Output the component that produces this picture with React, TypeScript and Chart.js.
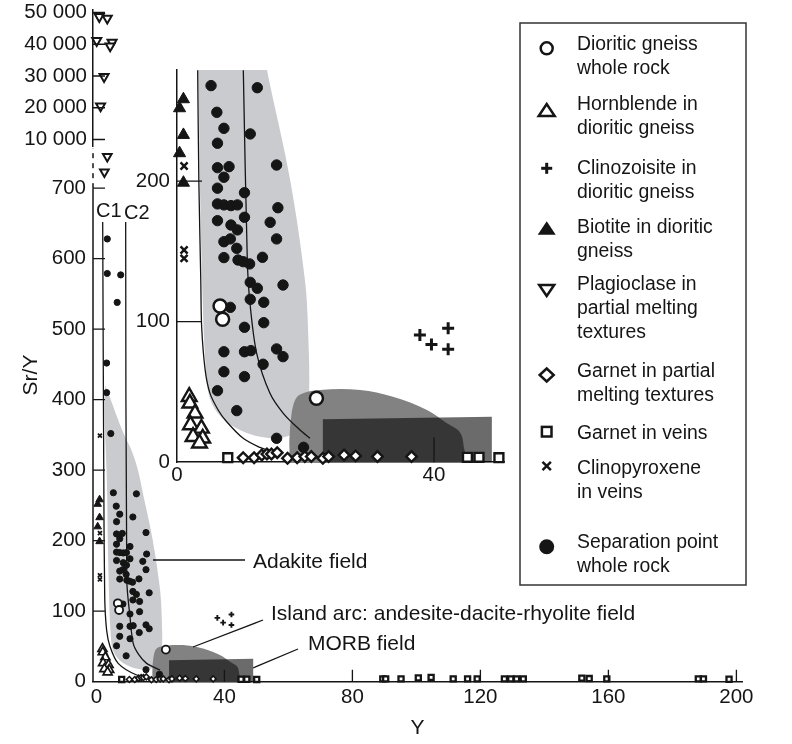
import React, { useEffect, useRef } from "react";
import { Chart, registerables } from "chart.js";

Chart.register(...registerables);

const FONT = "'Liberation Sans', Arial, Helvetica, sans-serif";
const INK = "#151515";
const W = 792;
const H = 744;

// ---------------- data (Y, Sr/Y) ----------------
const separationPoint: number[][] = [
  [5.3, 268], [12.5, 266.5], [6.2, 249], [7.3, 237.6], [11.4, 233.6], [6.3, 227],
  [6.3, 209.6], [8.1, 210.3], [15.5, 211.5], [7.3, 202.8], [6.3, 195], [10.5, 191.8],
  [6.3, 183.8], [7.3, 183.1], [8.4, 182.6], [9.4, 183.1], [15.7, 181.1], [6.3, 171.9],
  [10.5, 174.3], [14.5, 170.7], [8.4, 168.8], [9.4, 165.3], [15.5, 158.9], [7.3, 156.9],
  [8.3, 158.9], [9.3, 152.2], [7.3, 145.6], [9.5, 143.9], [10.3, 142.7], [11.3, 141.1],
  [13.3, 145.8], [11.4, 128], [12.5, 123.8], [16.5, 126.1], [11.4, 115.9], [8.3, 110.2],
  [13.5, 113.8], [13.5, 99.3], [10.5, 96], [7.3, 78.6], [10.5, 78.6], [11.5, 79.4],
  [15.5, 80.6], [16.5, 75.1], [13.4, 69.7], [7.3, 64.4], [10.5, 60.9], [6.3, 50.9],
  [9.3, 36.7], [15.5, 17], [19.7, 10.6],
  [3.4, 628], [3.4, 579], [7.6, 577], [6.5, 538], [3.2, 452], [3.2, 410], [4.5, 352],
];
const dioriticGneiss: number[][] = [[6.7, 111.2], [7.1, 101.7], [21.7, 45.5]];
const hornblende: number[][] = [
  [1.9, 46.6], [2.0, 41.9], [2.8, 34.8], [2.1, 26.5], [3.8, 24.1], [2.5, 18.1], [4.0, 17], [3.5, 13.5],
];
const clinozoisite: number[][] = [[37.8, 90.5], [39.6, 83.8], [42.2, 95.3], [42.2, 80.4]];
const biotite: number[][] = [[1.0, 258.3], [0.4, 251.9], [1.0, 232.9], [0.4, 219.9], [1.0, 198.9]];
const clinopyroxene: number[][] = [[1.1, 349], [1.1, 210.8], [1.1, 151], [1.1, 145.1]];
const plagioclaseHigh: number[][] = [
  [0.9, 48680], [3.4, 48170], [0.1, 41120], [4.9, 40610], [4.3, 39450], [2.4, 29780], [1.3, 20550],
];
const plagioclaseBreak: number[][] = [[3.4, 745], [2.5, 723]];
const garnetPartial: number[][] = [
  [10.3, 3.2], [12.0, 3.2], [13.2, 5.1], [14.0, 5.8], [14.7, 5.8], [15.6, 6.8], [17.2, 2.8], [18.7, 3.2],
  [19.9, 4.0], [20.9, 4.0], [22.7, 2.8], [23.6, 4.0], [26.0, 5.1], [27.8, 4.5], [31.2, 4.0], [36.5, 4.0],
];
const garnetVeins: number[][] = [
  [7.9, 3.2], [45.2, 3.5], [47.0, 3.5], [50.1, 3.2], [89.5, 4], [90.4, 4], [95.2, 4], [100.6, 5.5],
  [104.6, 6], [111.5, 4], [116, 4], [119, 4], [127.5, 4], [129.5, 4], [131.3, 4], [133.4, 4],
  [151.7, 5], [154, 4.5], [159.5, 4], [188.1, 4], [189.7, 4], [197.7, 3.5],
];

// fields
const adakiteField: number[][] = [
  [2.8, 420], [4.5, 400], [6.5, 375], [8.5, 352], [11.0, 328], [13.0, 300], [14.5, 268],
  [17.6, 201], [19.9, 130], [20.4, 94], [20.5, 44], [19.6, 26.5], [16.8, 17.9], [13.2, 17.9],
  [9.8, 22.9], [7.0, 31.5], [5.1, 45.7], [4.4, 72.7], [4.0, 115], [3.6, 190], [3.3, 280],
  [2.5, 390], [2.8, 420],
];
const islandArcField: number[][] = [
  [17.6, 25.3], [18.1, 40.7], [19.1, 48], [22.3, 51.4], [28.5, 51.4], [33.6, 46.6], [38.9, 37.2],
  [42.0, 27.7], [44.0, 21.5], [44.6, 12], [44.6, -2], [18.0, -2], [17.5, 10.1], [17.6, 25.3],
];
const morbField: number[][] = [[22.7, -2], [22.7, 30.5], [49.0, 32.4], [49.0, -2], [22.7, -2]];

// model curves (main panel / inset panel)
const c1Main: number[][] = [[1.97, 652], [2.3, 300], [2.6, 120], [3.2, 73], [4.25, 50], [6.8, 26], [12.6, 9.5], [18.8, 3.5]];
const c2Main: number[][] = [[9.15, 652], [9.5, 144], [10.5, 92], [11.5, 54.5], [13.3, 38], [15.7, 26], [19.9, 16.6]];
const c1Inset: number[][] = [[3.22, 279], [3.4, 200], [3.7, 130], [3.84, 96], [4.4, 65], [5.14, 49], [6.43, 37], [7.7, 29], [10.3, 17], [12.9, 10.5], [14.5, 8]];
const c2Inset: number[][] = [[10.32, 279], [10.94, 144], [11.36, 113], [12.4, 77.5], [14.47, 49], [16.54, 34.8], [19.14, 22.9], [20.7, 17]];

// ticks
const mainXTicks = [0, 40, 80, 120, 160, 200];
const mainYTicks = [0, 100, 200, 300, 400, 500, 600, 700];
const topYTicks = [10000, 20000, 30000, 40000, 50000];
const insetXTicks = [0, 40];
const insetYTicks = [0, 100, 200];

const legendItems: { lines: string[]; marker: string }[] = [
  { lines: ["Dioritic gneiss", "whole rock"], marker: "openCircle" },
  { lines: ["Hornblende in", "dioritic gneiss"], marker: "openTriangle" },
  { lines: ["Clinozoisite in", "dioritic gneiss"], marker: "plus" },
  { lines: ["Biotite in dioritic", "gneiss"], marker: "filledTriangle" },
  { lines: ["Plagioclase in", "partial melting", "textures"], marker: "downTriangle" },
  { lines: ["Garnet in partial", "melting textures"], marker: "diamond" },
  { lines: ["Garnet in veins"], marker: "square" },
  { lines: ["Clinopyroxene", "in veins"], marker: "cross" },
  { lines: ["Separation point", "whole rock"], marker: "filledCircle" },
];

const ADAKITE_FILL = "rgb(201,203,207)";
const ISLAND_FILL = "rgb(130,130,130)";
const MORB_FILL = "rgba(0,0,0,0.58)";

// ---------------- helpers ----------------
const toXY = (a: number[][]) => a.map(([x, y]) => ({ x, y }));

function pointSet(label: string, data: number[][], style: string, r: number, bw: number, fill: string, extra: any = {}) {
  return {
    type: "scatter",
    label,
    data: toXY(data),
    pointStyle: style,
    pointRadius: r,
    pointBorderWidth: bw,
    pointBackgroundColor: fill,
    pointBorderColor: INK,
    borderColor: INK,
    backgroundColor: fill,
    showLine: false,
    clip: 14,
    order: 1,
    ...extra,
  };
}
function fieldSet(label: string, data: number[][], color: string, tension: number, order: number) {
  return {
    type: "line",
    label,
    data: toXY(data),
    fill: "shape",
    backgroundColor: color,
    borderColor: "rgba(0,0,0,0)",
    borderWidth: 0,
    pointRadius: 0,
    tension,
    order,
  };
}
function curveSet(label: string, data: number[][]) {
  return {
    type: "line",
    label,
    data: toXY(data),
    fill: false,
    borderColor: INK,
    borderWidth: 1.3,
    pointRadius: 0,
    tension: 0.3,
    order: 5,
  };
}

function inwardTicks(id: string, xVals: number[], yVals: number[], len: number) {
  return {
    id,
    afterDatasetsDraw(chart: any) {
      const { ctx, chartArea: a, scales } = chart;
      ctx.save();
      ctx.strokeStyle = INK;
      ctx.lineWidth = 1.3;
      ctx.beginPath();
      yVals.forEach((v) => {
        const py = scales.y.getPixelForValue(v);
        ctx.moveTo(a.left, py);
        ctx.lineTo(a.left + len, py);
      });
      xVals.forEach((v) => {
        const px = scales.x.getPixelForValue(v);
        ctx.moveTo(px, a.bottom);
        ctx.lineTo(px, a.bottom - len);
      });
      ctx.stroke();
      ctx.restore();
    },
  };
}

const brokenAxis = {
  id: "brokenAxis",
  beforeDatasetsDraw(chart: any) {
    const { ctx, chartArea: a, scales } = chart;
    const y700 = scales.y.getPixelForValue(700);
    ctx.save();
    ctx.strokeStyle = INK;
    ctx.lineWidth = 1.5;
    ctx.beginPath();
    ctx.moveTo(a.left, a.bottom);
    ctx.lineTo(a.left, y700);
    ctx.stroke();
    ctx.setLineDash([5, 5]);
    ctx.beginPath();
    ctx.moveTo(a.left, y700);
    ctx.lineTo(a.left, a.top);
    ctx.stroke();
    ctx.restore();
  },
};

interface Panel {
  area: { left: number; top: number; right: number; bottom: number };
  xMin: number; xMax: number; yMin: number; yMax: number;
  xTicks: number[]; yTicks: number[];
  showX: boolean; xBorder: boolean; yBorder: boolean;
  xPad: number; yPad: number;
  yFormat?: (v: number) => string;
  xTitle?: string;
  datasets: any[];
  plugins: any[];
  oy: number;
}

function makeChart(canvas: HTMLCanvasElement, p: Panel) {
  const ch = H + p.oy;
  const top = p.area.top + p.oy;
  const bottom = p.area.bottom + p.oy;
  const tickFont = { family: FONT, size: 20.5, lineHeight: 1.2 };
  return new Chart(canvas, {
    type: "scatter",
    data: { datasets: p.datasets },
    options: {
      responsive: false,
      animation: false,
      devicePixelRatio: 1,
      events: [],
      layout: { padding: { left: 0, top, right: W - p.area.right, bottom: p.showX ? 0 : ch - bottom } },
      plugins: { legend: { display: false }, tooltip: { enabled: false }, title: { display: false } },
      scales: {
        x: {
          type: "linear",
          min: p.xMin,
          max: p.xMax,
          display: p.showX,
          grid: { display: false, drawTicks: false },
          border: { display: p.xBorder, color: INK, width: 1.5 },
          ticks: { padding: p.xPad, font: tickFont, color: INK, maxRotation: 0, autoSkip: false, callback: (v: any) => String(v) },
          title: p.xTitle
            ? { display: true, text: p.xTitle, color: INK, font: { family: FONT, size: 21, lineHeight: 1.2 }, padding: { top: 0, bottom: 3 } }
            : { display: false },
          afterBuildTicks: (s: any) => { s.ticks = p.xTicks.map((v) => ({ value: v })); },
          afterFit: (s: any) => { if (p.showX) s.height = ch - bottom; else s.height = 0; },
        },
        y: {
          type: "linear",
          min: p.yMin,
          max: p.yMax,
          grid: { display: false, drawTicks: false },
          border: { display: p.yBorder, color: INK, width: 1.5 },
          ticks: {
            padding: p.yPad, font: tickFont, color: INK, autoSkip: false,
            callback: (v: any) => (p.yFormat ? p.yFormat(Number(v)) : String(v)),
          },
          afterBuildTicks: (s: any) => { s.ticks = p.yTicks.map((v) => ({ value: v })); },
          afterFit: (s: any) => { s.width = p.area.left; },
        },
      },
    } as any,
    plugins: p.plugins,
  } as any);
}

const within = (a: number[][], xMax: number, yMax: number) => a.filter(([x, y]) => x <= xMax && y <= yMax);

function mainPanel(): Panel {
  const xMin = -1.06, xMax = 201.75, yMax = 757;
  return {
    area: { left: 93, top: 148, right: 742, bottom: 681.7 },
    xMin, xMax, yMin: 0, yMax,
    xTicks: mainXTicks, yTicks: mainYTicks,
    showX: true, xBorder: true, yBorder: false,
    xPad: 3, yPad: 7, xTitle: "Y", oy: 0,
    datasets: [
      pointSet("Dioritic gneiss whole rock", dioriticGneiss, "circle", 4, 1.8, "#fff", { order: 0 }),
      pointSet("Separation point whole rock", separationPoint, "circle", 3.1, 1, INK),
      pointSet("Hornblende in dioritic gneiss", hornblende, "triangle", 5.2, 1.7, "#fff"),
      pointSet("Clinozoisite in dioritic gneiss", clinozoisite, "cross", 2.8, 1.9, INK),
      pointSet("Biotite in dioritic gneiss", biotite, "triangle", 4.4, 1, INK),
      pointSet("Plagioclase in partial melting textures", plagioclaseBreak, "triangle", 5, 2, "#fff", { pointRotation: 180 }),
      pointSet("Garnet in partial melting textures", garnetPartial, "rectRot", 2.9, 1.6, "#fff"),
      pointSet("Garnet in veins", garnetVeins, "rect", 3.6, 2.3, "#fff"),
      pointSet("Clinopyroxene in veins", clinopyroxene, "crossRot", 2.8, 1.8, INK),
      curveSet("C1", c1Main),
      curveSet("C2", c2Main),
      fieldSet("MORB field", morbField, MORB_FILL, 0, 10),
      fieldSet("Island arc", islandArcField, ISLAND_FILL, 0.35, 11),
      fieldSet("Adakite field", adakiteField, ADAKITE_FILL, 0.35, 12),
    ],
    plugins: [brokenAxis, inwardTicks("mainTicks", [40, 80, 120, 160, 200], [100, 200, 300, 400, 500, 600, 700], 12)],
  };
}

function topPanel(): Panel {
  return {
    area: { left: 93, top: 9.96, right: 742, bottom: 146.8 },
    xMin: -1.06, xMax: 201.75, yMin: 7700, yMax: 50800,
    xTicks: [], yTicks: topYTicks,
    showX: false, xBorder: false, yBorder: true,
    xPad: 0, yPad: 6, oy: 40,
    yFormat: (v) => String(v).replace(/\B(?=(\d{3})+(?!\d))/g, " "),
    datasets: [
      pointSet("Plagioclase in partial melting textures", plagioclaseHigh, "triangle", 5.2, 2, "#fff", { pointRotation: 180 }),
    ],
    plugins: [inwardTicks("topTicks", [], topYTicks, 12)],
  };
}

function insetPanel(): Panel {
  const xMax = 51, yMax = 279.1;
  const f = (a: number[][]) => within(a, xMax, yMax);
  return {
    area: { left: 177, top: 70, right: 504.7, bottom: 462.2 },
    xMin: 0, xMax, yMin: 0, yMax,
    xTicks: insetXTicks, yTicks: insetYTicks,
    showX: true, xBorder: true, yBorder: true,
    xPad: 1, yPad: 7, oy: 0,
    datasets: [
      pointSet("Dioritic gneiss whole rock", f(dioriticGneiss), "circle", 6.5, 2.5, "#fff", { order: 0 }),
      pointSet("Separation point whole rock", f(separationPoint), "circle", 5.2, 1, INK),
      pointSet("Hornblende in dioritic gneiss", f(hornblende), "triangle", 8.5, 2.4, "#fff"),
      pointSet("Clinozoisite in dioritic gneiss", f(clinozoisite), "cross", 6, 3, INK),
      pointSet("Biotite in dioritic gneiss", f(biotite), "triangle", 7, 1, INK),
      pointSet("Garnet in partial melting textures", f(garnetPartial), "rectRot", 5.3, 2.4, "#fff"),
      pointSet("Garnet in veins", f(garnetVeins), "rect", 6.3, 2.4, "#fff"),
      pointSet("Clinopyroxene in veins", f(clinopyroxene), "crossRot", 5, 2.5, INK),
      curveSet("C1", c1Inset),
      curveSet("C2", c2Inset),
      fieldSet("MORB field", morbField, MORB_FILL, 0, 10),
      fieldSet("Island arc", islandArcField, ISLAND_FILL, 0.35, 11),
      fieldSet("Adakite field", adakiteField, ADAKITE_FILL, 0.35, 12),
    ],
    plugins: [inwardTicks("insetTicks", [40], [100, 200], 25)],
  };
}

// ---------------- legend markers ----------------
function Marker({ kind, cx, cy }: { kind: string; cx: number; cy: number }) {
  const s = { stroke: INK, strokeWidth: 2.5 } as any;
  switch (kind) {
    case "openCircle":
      return <circle cx={cx} cy={cy} r={6} fill="#fff" {...s} />;
    case "filledCircle":
      return <circle cx={cx} cy={cy} r={7.5} fill={INK} />;
    case "openTriangle":
      return <polygon points={`${cx - 8},${cy + 6} ${cx + 8},${cy + 6} ${cx},${cy - 6}`} fill="#fff" {...s} />;
    case "filledTriangle":
      return <polygon points={`${cx - 9},${cy + 6.5} ${cx + 9},${cy + 6.5} ${cx},${cy - 7}`} fill={INK} />;
    case "downTriangle":
      return <polygon points={`${cx - 7.5},${cy - 5} ${cx + 7.5},${cy - 5} ${cx},${cy + 6}`} fill="#fff" {...s} />;
    case "diamond":
      return <polygon points={`${cx - 7},${cy} ${cx},${cy - 6.5} ${cx + 7},${cy} ${cx},${cy + 6.5}`} fill="#fff" {...s} />;
    case "square":
      return <rect x={cx - 4.8} y={cy - 4.8} width={9.6} height={9.6} fill="#fff" {...s} />;
    case "plus":
      return (
        <g stroke={INK} strokeWidth={3}>
          <line x1={cx - 5.5} y1={cy} x2={cx + 5.5} y2={cy} />
          <line x1={cx} y1={cy - 5.5} x2={cx} y2={cy + 5.5} />
        </g>
      );
    case "cross":
      return (
        <g stroke={INK} strokeWidth={2.5}>
          <line x1={cx - 4.2} y1={cy - 4.2} x2={cx + 4.2} y2={cy + 4.2} />
          <line x1={cx - 4.2} y1={cy + 4.2} x2={cx + 4.2} y2={cy - 4.2} />
        </g>
      );
    default:
      return null;
  }
}

const legendTops = [31, 91, 154.5, 213.5, 271, 358, 420, 454.5, 529];
const legendMarkerY = [48.3, 110, 168.3, 228.3, 290, 375, 431.7, 466, 546.7];

export default function App() {
  const mainRef = useRef<HTMLCanvasElement>(null);
  const topRef = useRef<HTMLCanvasElement>(null);
  const insetRef = useRef<HTMLCanvasElement>(null);

  useEffect(() => {
    const charts = [
      makeChart(mainRef.current as HTMLCanvasElement, mainPanel()),
      makeChart(topRef.current as HTMLCanvasElement, topPanel()),
      makeChart(insetRef.current as HTMLCanvasElement, insetPanel()),
    ];
    return () => charts.forEach((c) => c.destroy());
  }, []);

  const textBase: any = { position: "absolute", whiteSpace: "nowrap", color: INK, fontFamily: FONT };

  return (
    <div style={{ position: "absolute", left: 0, top: 0, width: W, height: H, background: "#fff", overflow: "hidden", fontFamily: FONT }}>
      <canvas ref={mainRef} width={W} height={H} style={{ position: "absolute", left: 0, top: 0, width: W, height: H }} />
      <canvas ref={topRef} width={W} height={H + 40} style={{ position: "absolute", left: 0, top: -40, width: W, height: H + 40 }} />
      <canvas ref={insetRef} width={W} height={H} style={{ position: "absolute", left: 0, top: 0, width: W, height: H }} />

      <svg width={W} height={H} style={{ position: "absolute", left: 0, top: 0, pointerEvents: "none" }}>
        <rect x={520} y={23} width={226} height={562} fill="none" stroke="#333" strokeWidth={1.5} />
        {legendItems.map((it, i) => (
          <Marker key={i} kind={it.marker} cx={546.7} cy={legendMarkerY[i]} />
        ))}
        <g stroke={INK} strokeWidth={1.3}>
          <line x1={153} y1={560} x2={245} y2={560} />
          <line x1={193} y1={647} x2={263} y2={620} />
          <line x1={253} y1={668} x2={298} y2={649} />
        </g>
      </svg>

      {legendItems.map((it, i) => (
        <div key={i} style={{ ...textBase, left: 577, top: legendTops[i], fontSize: 19.4, lineHeight: "24px" }}>
          {it.lines.map((l, j) => (
            <div key={j}>{l}</div>
          ))}
        </div>
      ))}

      <div style={{ ...textBase, left: 253, top: 549, fontSize: 21, lineHeight: "24px" }}>Adakite field</div>
      <div style={{ ...textBase, left: 271, top: 601, fontSize: 21, lineHeight: "24px" }}>Island arc: andesite-dacite-rhyolite field</div>
      <div style={{ ...textBase, left: 308, top: 631, fontSize: 21, lineHeight: "24px" }}>MORB field</div>
      <div style={{ ...textBase, left: 96, top: 198, fontSize: 20, lineHeight: "24px" }}>C1</div>
      <div style={{ ...textBase, left: 124, top: 200, fontSize: 20, lineHeight: "24px" }}>C2</div>
      <div
        style={{ ...textBase, left: 30, top: 375, fontSize: 21, lineHeight: "24px", transform: "translate(-50%, -50%) rotate(-90deg)" }}
      >
        Sr/Y
      </div>
    </div>
  );
}
